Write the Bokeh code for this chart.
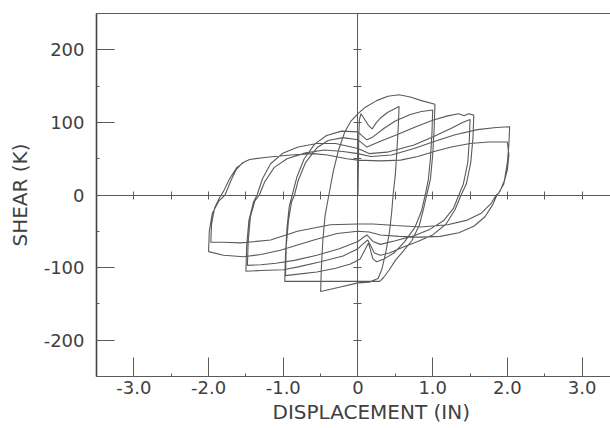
from bokeh.plotting import figure
from bokeh.models import LinearAxis, FixedTicker, Range1d, Title
from bokeh.embed import file_html
from bokeh.resources import INLINE

# ---------------- data ----------------
# hysteresis branches, in chronological order: (displacement in, shear k)
load_1 = [(0.0, 0), (0.005, 40), (0.01, 80), (0.02, 104), (0.04, 112), (0.09, 104), (0.14, 96),
          (0.19, 91), (0.24, 99), (0.3, 106), (0.4, 114), (0.55, 122)]
unload_1 = [(0.55, 122), (0.54, 95), (0.52, 60), (0.5, 28), (0.47, 0), (0.45, -25), (0.42, -52),
            (0.37, -80), (0.32, -102), (0.27, -115), (0.15, -120), (0.0, -121), (-0.25, -127), (-0.5, -133)]
load_2 = [(-0.5, -133), (-0.49, -100), (-0.47, -62), (-0.44, -28), (-0.39, 0), (-0.33, 33), (-0.26, 62),
          (-0.18, 86), (-0.1, 101), (0.0, 112), (0.1, 121), (0.25, 130), (0.4, 136), (0.55, 138),
          (0.7, 135), (0.85, 130), (1.03, 125)]
unload_2 = [(1.03, 125), (1.02, 92), (1.0, 55), (0.97, 22), (0.92, 0), (0.88, -18), (0.82, -42),
            (0.72, -63), (0.6, -78), (0.5, -90), (0.42, -103), (0.34, -114), (0.29, -119), (0.0, -119),
            (-0.5, -119), (-0.98, -119)]
load_3 = [(-0.98, -119), (-0.97, -82), (-0.95, -45), (-0.92, -16), (-0.88, 0), (-0.82, 24), (-0.72, 50),
          (-0.58, 70), (-0.42, 82), (-0.22, 88), (0.0, 87), (0.06, 81), (0.12, 76), (0.2, 80), (0.35, 92),
          (0.5, 102), (0.7, 111), (0.85, 115), (1.0, 117)]
unload_3 = [(1.0, 117), (0.99, 85), (0.97, 50), (0.94, 20), (0.9, 0), (0.85, -22), (0.76, -45),
            (0.62, -65), (0.48, -80), (0.35, -88), (0.25, -92), (0.2, -88), (0.14, -66), (0.08, -78),
            (0.03, -88), (-0.1, -95), (-0.3, -101), (-0.55, -106), (-0.8, -109), (-0.97, -111)]
load_4 = [(-0.97, -111), (-0.96, -70), (-0.93, -35), (-0.89, -10), (-0.85, 0), (-0.8, 20), (-0.7, 45),
          (-0.55, 65), (-0.4, 75), (-0.2, 79), (0.0, 76), (0.12, 66), (0.3, 74), (0.52, 83), (0.8, 95),
          (1.0, 103), (1.2, 109), (1.35, 112), (1.42, 109), (1.48, 112), (1.55, 110)]
unload_4 = [(1.55, 110), (1.54, 80), (1.51, 45), (1.45, 15), (1.38, 0), (1.3, -20), (1.18, -40),
            (1.0, -55), (0.8, -64), (0.6, -72), (0.42, -80), (0.3, -83), (0.22, -80), (0.13, -62),
            (0.06, -68), (0.0, -74), (-0.2, -84), (-0.5, -92), (-0.8, -99), (-1.0, -103), (-1.3, -104),
            (-1.5, -105)]
load_5 = [(-1.5, -105), (-1.49, -70), (-1.46, -35), (-1.4, -10), (-1.35, 0), (-1.28, 22), (-1.17, 43),
          (-1.0, 58), (-0.8, 66), (-0.55, 71), (-0.3, 71), (0.0, 64), (0.15, 57), (0.39, 59), (0.75, 69),
          (1.0, 80), (1.25, 92), (1.4, 100), (1.5, 104)]
unload_5 = [(1.5, 104), (1.49, 75), (1.47, 45), (1.41, 15), (1.35, 0), (1.28, -18), (1.15, -35),
            (0.95, -48), (0.75, -56), (0.5, -63), (0.3, -68), (0.2, -64), (0.12, -55), (0.05, -60),
            (0.0, -64), (-0.25, -74), (-0.55, -83), (-0.85, -90), (-1.1, -94), (-1.3, -96), (-1.48, -97)]
load_6 = [(-1.48, -97), (-1.47, -65), (-1.44, -30), (-1.38, -8), (-1.32, 0), (-1.25, 18), (-1.12, 38),
          (-0.95, 50), (-0.7, 58), (-0.45, 62), (-0.2, 60), (0.0, 57), (0.17, 53), (0.45, 55), (0.75, 64),
          (1.0, 73), (1.3, 83), (1.6, 90), (1.85, 93), (2.03, 94)]
unload_6 = [(2.03, 94), (2.02, 70), (2.0, 45), (1.96, 20), (1.9, 5), (1.86, 0), (1.8, -14), (1.7, -30),
            (1.55, -43), (1.35, -52), (1.1, -57), (0.85, -58), (0.55, -57), (0.3, -55), (0.15, -51),
            (0.0, -50), (-0.28, -53), (-0.59, -62), (-1.04, -76), (-1.3, -82), (-1.53, -85), (-1.8, -83),
            (-2.0, -78)]
load_7 = [(-2.0, -78), (-1.99, -50), (-1.95, -25), (-1.86, -8), (-1.78, 0), (-1.7, 20), (-1.63, 35),
          (-1.55, 44), (-1.45, 49), (-1.22, 52), (-0.9, 55), (-0.59, 57), (-0.41, 55), (-0.15, 50),
          (0.0, 48), (0.3, 47), (0.57, 48), (0.8, 53), (1.02, 60), (1.25, 66), (1.5, 71), (1.75, 73),
          (2.0, 73)]
unload_7 = [(2.0, 73), (2.02, 55), (2.0, 35), (1.95, 15), (1.88, 2), (1.85, 0), (1.78, -12), (1.65, -25),
            (1.45, -35), (1.2, -41), (0.84, -44), (0.5, -42), (0.2, -40), (0.0, -40), (-0.37, -41),
            (-0.81, -50), (-1.17, -62), (-1.57, -66), (-1.8, -65), (-1.97, -65)]
load_8 = [(-1.97, -65), (-1.96, -40), (-1.92, -18), (-1.85, -3), (-1.8, 5), (-1.72, 22), (-1.62, 38),
          (-1.5, 47)]

branches = [load_1, unload_1, load_2, unload_2, load_3, unload_3, load_4, unload_4,
            load_5, unload_5, load_6, unload_6, load_7, unload_7, load_8]

x_ticks = [-3, -2, -1, 0, 1, 2, 3]
x_tick_labels = ["-3.0", "-2.0", "-1.0", "0", "1.0", "2.0", "3.0"]
x_minor_ticks = [-2.5, -1.5, -0.5, 0.5, 1.5, 2.5]
y_ticks = [-200, -100, 0, 100, 200]
y_tick_labels = ["-200", "-100", "0", "100", "200"]
y_minor_ticks = [-250, -150, -50, 50, 150, 250]
center_x_ticks = [-3.0, -2.5, -2.0, -1.5, -1.0, -0.5, 0.5, 1.0, 1.5, 2.0, 2.5, 3.0]
center_y_ticks = [-250, -200, -150, -100, -50, 50, 100, 150, 200, 250]

x_label = "DISPLACEMENT (IN)"
y_label = "SHEAR (K)"

# ---------------- figure ----------------
FONT = "DejaVu Sans"
TEXT = "#404040"
INK = "#5a5a5a"

p = figure(width=610, height=428, x_range=Range1d(-3.5, 3.38), y_range=Range1d(-250, 250),
           x_axis_type=None, y_axis_type=None, output_backend="svg", toolbar_location=None,
           min_border_left=96, min_border_right=0, min_border_top=13, min_border_bottom=52)
p.outline_line_color = None
p.xgrid.visible = False
p.ygrid.visible = False
p.background_fill_color = "white"
p.border_fill_color = "white"

xs, ys = [], []
for br in branches:
    for (x, y) in br:
        xs.append(x)
        ys.append(y)
p.line(xs, ys, line_color=INK, line_width=1.1)


def style(ax):
    ax.axis_line_color = INK
    ax.major_tick_line_color = INK
    ax.minor_tick_line_color = INK
    ax.major_label_text_font = FONT
    ax.major_label_text_color = TEXT
    ax.axis_label_text_font = FONT
    ax.axis_label_text_color = TEXT
    ax.axis_label_text_font_style = "normal"


left = LinearAxis(ticker=FixedTicker(ticks=y_ticks, minor_ticks=y_minor_ticks),
                  major_label_overrides={t: s for t, s in zip(y_ticks, y_tick_labels)},
                  axis_label=y_label)
style(left)
left.axis_line_color = "#444444"
left.axis_line_width = 1.6
left.major_tick_in = 18
left.major_tick_out = 0
left.minor_tick_in = 3
left.minor_tick_out = 0
left.major_label_standoff = 12
left.major_label_text_font_size = "18px"
left.axis_label_text_font_size = "20px"
left.axis_label_standoff = 9
p.add_layout(left, "left")

bottom = LinearAxis(ticker=FixedTicker(ticks=x_ticks, minor_ticks=x_minor_ticks),
                    major_label_overrides={t: s for t, s in zip(x_ticks, x_tick_labels)})
style(bottom)
bottom.major_tick_in = 19
bottom.major_tick_out = 0
bottom.minor_tick_in = 3
bottom.minor_tick_out = 0
bottom.major_label_standoff = 4
bottom.major_label_text_font_size = "18px"
p.add_layout(bottom, "below")

xtitle = Title(text=x_label, align="left", offset=176, standoff=3,
               text_font=FONT, text_font_size="20px", text_font_style="normal", text_color=TEXT)
p.add_layout(xtitle, "below")

top = LinearAxis(ticker=FixedTicker(ticks=[]))
style(top)
top.major_tick_in = 0
top.major_tick_out = 0
top.minor_tick_in = 0
top.minor_tick_out = 0
top.major_label_standoff = 0
p.add_layout(top, "above")

# crosshair axes through the origin (no labels)
vaxis = LinearAxis(ticker=FixedTicker(ticks=center_y_ticks), fixed_location=0,
                   major_label_overrides={t: "" for t in center_y_ticks})
style(vaxis)
vaxis.major_tick_in = 4
vaxis.major_tick_out = 4
vaxis.minor_tick_in = 0
vaxis.minor_tick_out = 0
vaxis.major_label_standoff = 0
vaxis.major_label_text_font_size = "0px"
p.add_layout(vaxis, "left")

haxis = LinearAxis(ticker=FixedTicker(ticks=center_x_ticks), fixed_location=0,
                   major_label_overrides={t: "" for t in center_x_ticks})
style(haxis)
haxis.major_tick_in = 4
haxis.major_tick_out = 4
haxis.minor_tick_in = 0
haxis.minor_tick_out = 0
haxis.major_label_standoff = 0
haxis.major_label_text_font_size = "0px"
p.add_layout(haxis, "above")

open("out.html", "w").write(file_html(p, INLINE))
